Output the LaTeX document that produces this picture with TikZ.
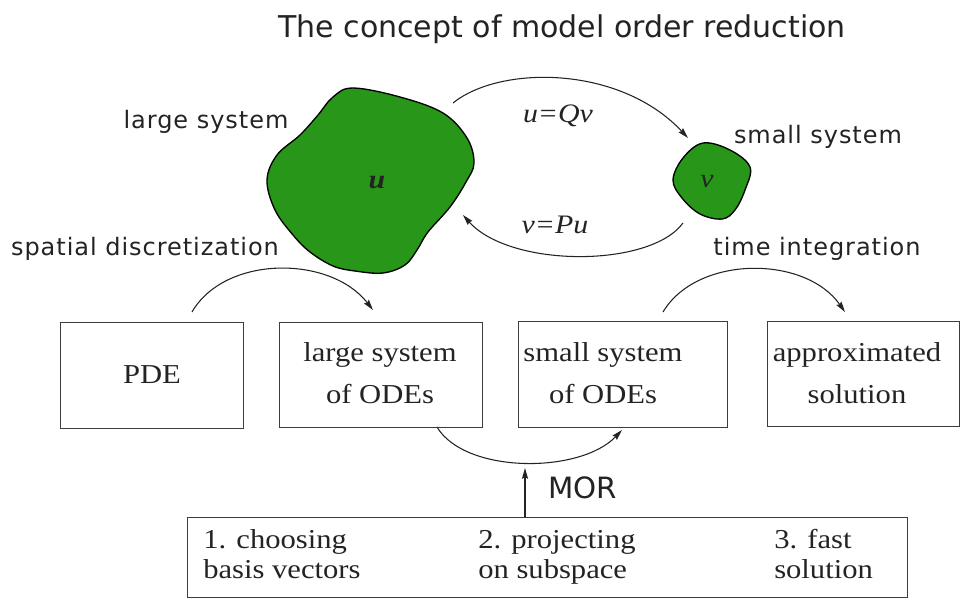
\documentclass[tikz,border=0pt]{standalone}
\usepackage{fontspec}
\setmainfont{Liberation Serif}[FakeStretch=1.12]
\newfontfamily\labelfont{DejaVu Sans}[LetterSpace=4]
\newfontfamily\titlefont{DejaVu Sans}
\usetikzlibrary{arrows.meta}
\definecolor{blobgreen}{RGB}{40,150,25}
\definecolor{ink}{RGB}{35,35,35}
\definecolor{boxline}{RGB}{60,60,60}
\begin{document}
\begin{tikzpicture}[
  x=0.75pt, y=-0.75pt,
  every node/.style={text=ink, inner sep=0pt},
  stagebox/.style={draw=boxline, line width=1pt, anchor=north west},
  boxtext/.style={font=\fontsize{20.5}{31.5}\selectfont, align=center},
  steptext/.style={font=\fontsize{20.5}{22.5}\selectfont, align=left, anchor=base west},
  sanslabel/.style={font=\labelfont\fontsize{18}{22}\selectfont, anchor=base},
  maplabel/.style={font=\fontsize{20}{24}\selectfont\itshape, anchor=base},
  flow/.style={draw=ink, line width=0.8pt, -{Stealth[length=8pt,width=4.5pt,inset=1pt]}},
  blob/.style={fill=blobgreen, draw=black, line width=1pt}
]
\useasboundingbox (0,0) rectangle (961,601);

% title
\node[font=\titlefont\fontsize{22.5}{26}\selectfont, anchor=base] (title) at (562,37)
  {The concept of model order reduction};

% the two state spaces
\filldraw[blob] plot[smooth cycle, tension=0.6] coordinates {
  (353,88) (400,97) (443,113) (467,138) (474,163) (466,182) (450,207)
  (428,232) (417,250) (405,265) (383,273) (355,271) (333,266) (310,252)
  (293,235) (275,210) (267,180) (277,155) (300,135) (318,115) (333,97)};
\filldraw[blob] plot[smooth cycle, tension=0.6] coordinates {
  (703,143) (730,150) (750,167) (745,190) (735,210) (722,219) (700,214)
  (682,198) (673,180) (683,158)};
\node[font=\fontsize{20}{24}\selectfont\bfseries\itshape] (u) at (377,183) {u};
\node[font=\fontsize{20}{24}\selectfont\itshape] (v) at (707,182) {v};

\node[sanslabel] (largelbl) at (206,128) {large system};
\node[sanslabel] (smalllbl) at (818,143) {small system};
\node[sanslabel] (spatial) at (145,255) {spatial discretization};
\node[sanslabel] (timeint) at (817,255) {time integration};

% projection maps between the spaces
\coordinate (qs) at (453,103);
\coordinate (qe) at (688,138);
\coordinate (ps) at (683,223);
\coordinate (pe) at (463,215);
\draw[flow] (qs) .. controls (500,65) and (620,65) .. (qe);
\draw[flow] (ps) .. controls (650,268) and (510,268) .. (pe);
\node[maplabel] (qmap) at (558,122) {u=Qv};
\node[maplabel] (pmap) at (555,233) {v=Pu};

% the four stages (sizes in pt: 1 px = 0.75 pt)
\node[stagebox, minimum width=137.25pt, minimum height=79.5pt] (pde) at (60,322) {};
\node[stagebox, minimum width=152.25pt, minimum height=78.75pt] (bigode) at (279,322) {};
\node[stagebox, minimum width=156.75pt, minimum height=79.5pt] (smallode) at (518,321) {};
\node[stagebox, minimum width=144pt, minimum height=78.75pt] (approx) at (767,321) {};

\node[boxtext] (pdetxt) at (152,375) {PDE};
\node[boxtext] (bigtxt) at (380,373) {large system\\of ODEs};
\node[boxtext] (smalltxt) at (603,373) {small system\\of ODEs};
\node[boxtext] (approxtxt) at (857,373) {approximated\\solution};

% stage transitions
\coordinate (sds) at (192,312);
\coordinate (sde) at (373,310);
\coordinate (tis) at (663,312);
\coordinate (tie) at (845,312);
\draw[flow] (sds) .. controls (225,255) and (330,255) .. (sde);
\draw[flow] (tis) .. controls (697,255) and (805,255) .. (tie);

\coordinate (mors) at (437,427);
\coordinate (more) at (622,430);
\draw[flow] (mors) .. controls (465,474) and (580,474) .. (more);

% steps of the reduction
\node[stagebox, minimum width=540pt, minimum height=60pt] (steps) at (187,517) {};
\coordinate (morin) at (525,468);
\draw[flow] (steps.north -| morin) -- (morin);
\node[font=\titlefont\fontsize{22}{26}\selectfont, anchor=base west] (mor) at (548,498) {MOR};

% anchored on the baseline of the second line
\node[steptext] (s1) at (203,578) {1. choosing\\basis vectors};
\node[steptext] (s2) at (478,578) {2. projecting\\on subspace};
\node[steptext] (s3) at (774,578) {3. fast\\solution};
\end{tikzpicture}
\end{document}
